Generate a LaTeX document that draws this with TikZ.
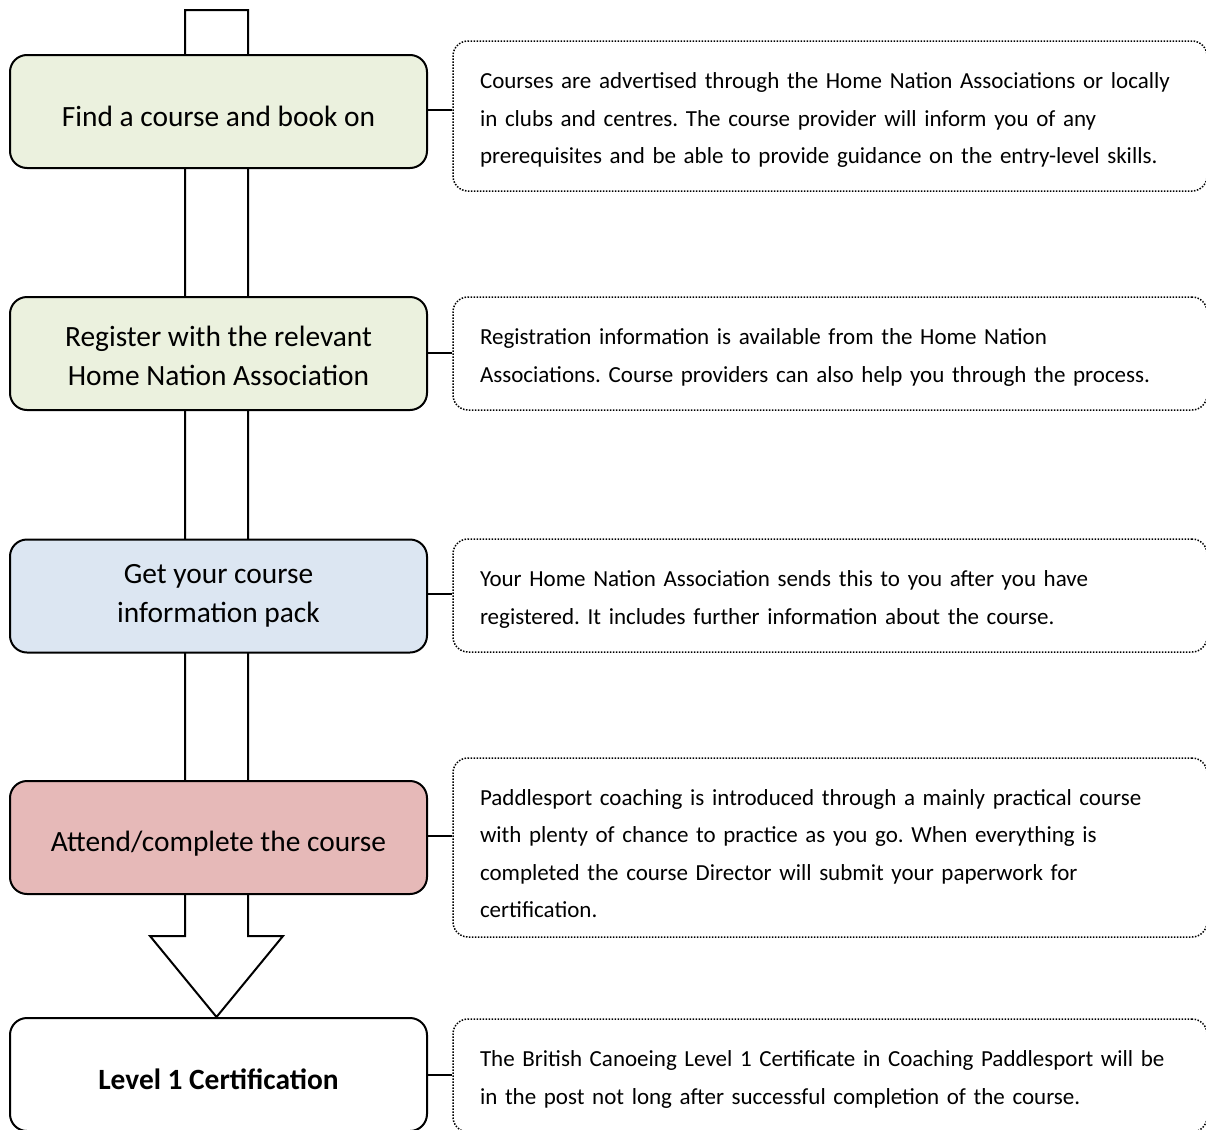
\documentclass[tikz,border=0pt]{standalone}
\usepackage{fontspec}
\setmainfont{Carlito}
\definecolor{boxgreen}{HTML}{EBF1DE}
\definecolor{boxblue}{HTML}{DCE6F2}
\definecolor{boxred}{HTML}{E6B9B8}
\newcommand{\bxstrut}{\rule[-2pt]{0pt}{16pt}}
\newcommand{\bxonestrut}{\rule[-2pt]{0pt}{18.5pt}}
\newcommand{\nttop}[1][13pt]{\rule{0pt}{#1}}
\newcommand{\ntbot}{\rule[-3pt]{0pt}{0pt}}
\begin{document}
\frenchspacing
\begin{tikzpicture}[x=0.5pt,y=-0.5pt,
  stepbox/.style={draw, line width=1pt, rounded corners=8.5pt, minimum width=208.5pt, minimum height=56.5pt, align=center, inner sep=0pt, font=\fontsize{14.7}{19.5}\selectfont},
  notebox/.style={draw, line width=0.75pt, dash pattern=on 0.75pt off 0.75pt, rounded corners=7.5pt, minimum width=377pt, text width=350pt, align=left, inner xsep=13.5pt, inner ysep=0pt, font=\fontsize{11.5}{18.75}\selectfont},
  link/.style={line width=1pt},
  blockarrow/.style={draw, fill=white, line width=1pt, line join=miter}]
\useasboundingbox (0,0) rectangle (1206,1130);
% big block arrow behind the steps
\draw[blockarrow] (185,10) -- (248,10) -- (248,936) -- (283,936) -- (216.5,1017) -- (150,936) -- (185,936) -- cycle;
% steps
\node[stepbox, fill=boxgreen] (s1) at (218.5,111.5) {\bxonestrut Find a course and book on};
\node[stepbox, fill=boxgreen] (s2) at (218.5,353.5) {\bxstrut Register with the relevant\\\bxstrut Home Nation Association};
\node[stepbox, fill=boxblue] (s3) at (218.5,596) {\bxstrut Get your course\\\rule[-7pt]{0pt}{16pt}information pack};
\node[stepbox, fill=boxred] (s4) at (218.5,837.5) {\bxonestrut Attend/complete the course};
\node[stepbox, fill=white] (s5) at (218.5,1074.5) {\bxonestrut\textbf{Level 1 Certification}};
% notes
\node[notebox, minimum height=75pt] (n1) at (830,116) {\nttop\mbox{Courses are advertised through the Home Nation Associations or locally}\\\mbox{in clubs and centres. The course provider will inform you of any}\\\ntbot\mbox{prerequisites and be able to provide guidance on the entry-level skills.}};
\node[notebox, minimum height=56.5pt] (n2) at (830,353.5) {\nttop\mbox{Registration information is available from the Home Nation}\\\ntbot\mbox{Associations. Course providers can also help you through the process.}};
\node[notebox, minimum height=56.5pt] (n3) at (830,595.5) {\nttop\mbox{Your Home Nation Association sends this to you after you have}\\\ntbot\mbox{registered. It includes further information about the course.}};
\node[notebox, minimum height=89.5pt] (n4) at (830,847.5) {\nttop[17pt]\mbox{Paddlesport coaching is introduced through a mainly practical course}\\\mbox{with plenty of chance to practice as you go. When everything is}\\\mbox{completed the course Director will submit your paperwork for}\\\ntbot\mbox{certification.}};
\node[notebox, minimum height=56.5pt] (n5) at (830,1075.5) {\nttop\mbox{The British Canoeing Level 1 Certificate in Coaching Paddlesport will be}\\\ntbot\mbox{in the post not long after successful completion of the course.}};
% connectors
\draw[link] ([yshift=1pt]s1.east) -- ([yshift=1pt]s1.east -| n1.west);
\draw[link] ([yshift=0.5pt]s2.east) -- ([yshift=0.5pt]s2.east -| n2.west);
\draw[link] ([yshift=1pt]s3.east) -- ([yshift=1pt]s3.east -| n3.west);
\draw[link] ([yshift=1pt]s4.east) -- ([yshift=1pt]s4.east -| n4.west);
\draw[link] (s5.east) -- (s5.east -| n5.west);
\end{tikzpicture}
\end{document}
